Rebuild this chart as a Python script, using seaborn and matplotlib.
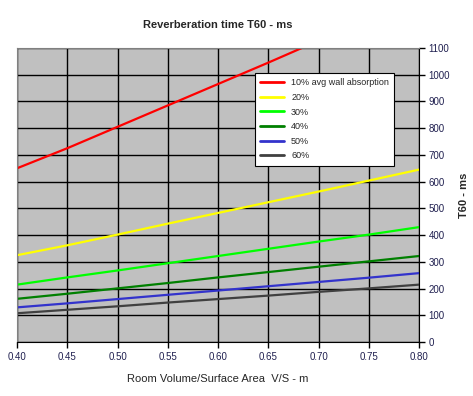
import pandas as pd
import numpy as np
import matplotlib
matplotlib.use("Agg")
import matplotlib.pyplot as plt
import seaborn as sns

sns.set_style("white")
plt.rcParams['font.family'] = ['Liberation Sans', 'DejaVu Sans']

vs = [0.40, 0.45, 0.50, 0.55, 0.60, 0.65, 0.70, 0.75, 0.80]
t10 = [650, 725, 805, 885, 965, 1045, 1127]
t20 = [325, 362, 402, 443, 483, 523, 563, 604, 645]
t30 = [215, 242, 268, 295, 322, 349, 376, 402, 430]
t40 = [162, 181, 201, 221, 242, 262, 282, 302, 322]
t50 = [130, 145, 161, 177, 193, 209, 225, 241, 258]
t60 = [108, 121, 134, 148, 161, 174, 188, 201, 215]

labels = ["10% avg wall absorption", "20%", "30%", "40%", "50%", "60%"]
series = [t10, t20, t30, t40, t50, t60]
colors = ["#FF0000", "#FFFF00", "#00FF00", "#008000", "#3333CC", "#404040"]

rows = []
for lab, vals in zip(labels, series):
    for x, y in zip(vs, vals):
        rows.append({"vs": x, "t": y, "series": lab})
df = pd.DataFrame(rows)

fig, ax = plt.subplots(figsize=(4.73, 3.96), dpi=100)
fig.subplots_adjust(left=0.036, right=0.886, top=0.879, bottom=0.136)

sns.lineplot(data=df, x="vs", y="t", hue="series", palette=colors,
             hue_order=labels, linewidth=1.6, ax=ax)

ax.set_facecolor("#C0C0C0")
ax.set_xlim(0.40, 0.80)
ax.set_ylim(0, 1100)
ax.set_xticks(vs)
ax.set_xticklabels([f"{v:.2f}" for v in vs])
ax.set_yticks(np.arange(0, 1101, 100))
ax.yaxis.tick_right()
ax.yaxis.set_label_position("right")
ax.grid(True, color="black", linewidth=1)
ax.set_axisbelow(True)
ax.tick_params(axis="both", direction="out", length=4, width=1, color="black",
               labelsize=7, labelcolor="#202050")
ax.tick_params(axis="x", bottom=True, pad=3)
ax.tick_params(axis="y", right=True, left=False, pad=3)
for s in ["top", "left"]:
    ax.spines[s].set_color("#808080")
for s in ["bottom", "right"]:
    ax.spines[s].set_color("black")

ax.set_title("Reverberation time T60 - ms", fontsize=8, fontweight="bold", pad=14)
ax.set_xlabel("Room Volume/Surface Area  V/S - m", fontsize=8, labelpad=9)
ax.set_ylabel("T60 - ms", fontsize=8, fontweight="bold", labelpad=6)

leg = ax.legend(loc="upper left", bbox_to_anchor=(0.592, 0.915), borderaxespad=0,
                fontsize=6.5, frameon=True, fancybox=False, framealpha=1,
                edgecolor="black", handlelength=2.6, labelspacing=0.62,
                borderpad=0.6)
leg.get_frame().set_linewidth(0.8)
for line in leg.get_lines():
    line.set_linewidth(2)

fig.savefig("out.png", dpi=100)
